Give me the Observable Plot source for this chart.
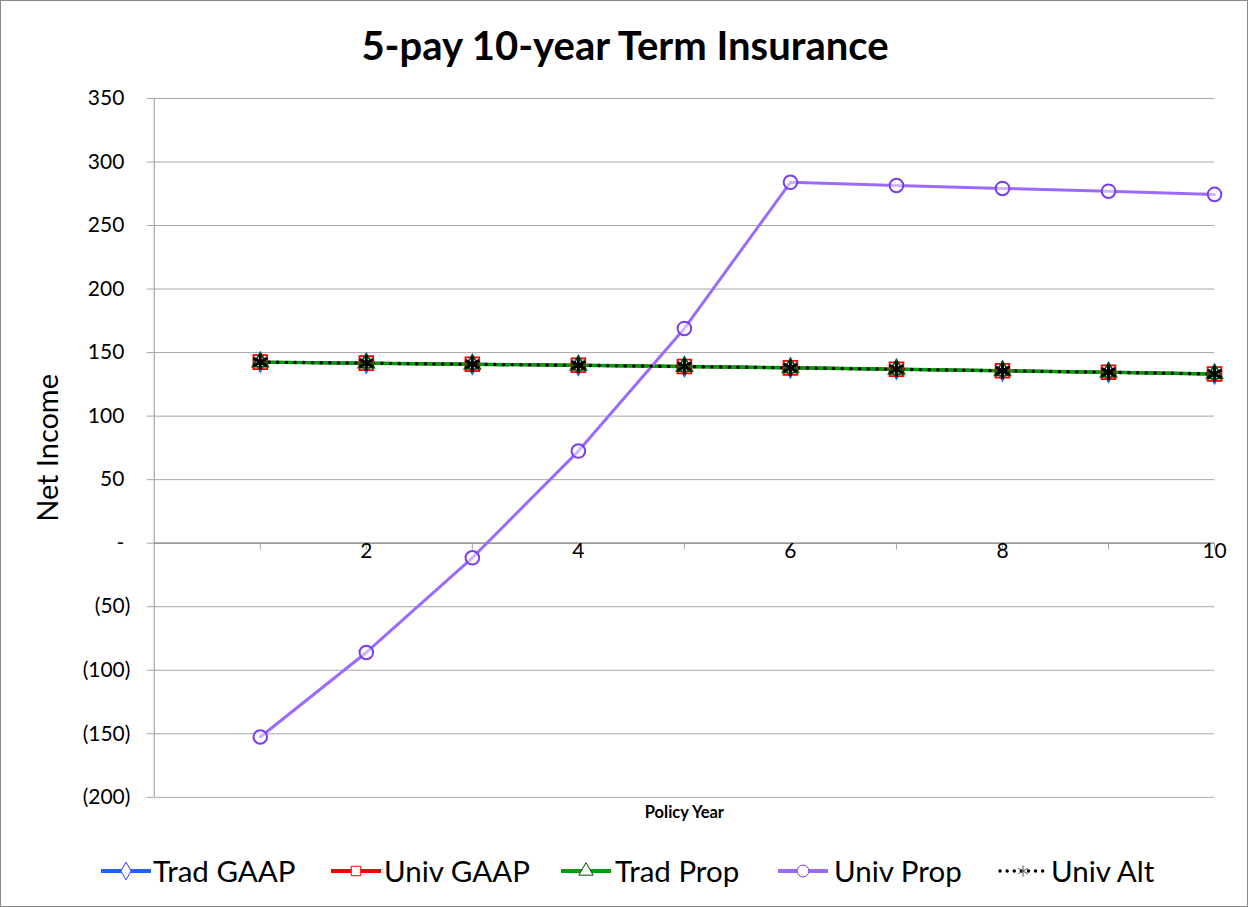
<!DOCTYPE html>
<html>
<head>
<meta charset="utf-8">
<script src="https://cdn.jsdelivr.net/npm/d3@7"></script>
<script src="https://cdn.jsdelivr.net/npm/@observablehq/plot@0.6"></script>
<style>
  html, body { margin: 0; padding: 0; background: #fff; }
  #chart { position: relative; width: 1248px; height: 907px; box-sizing: border-box; border: 1px solid #8a8a8a; overflow: hidden; font-family: Lato, "Open Sans", sans-serif; }
  #title { position: absolute; left: 0; top: 20px; width: 1248px; text-align: center; font-weight: bold; font-size: 40px; line-height: 48px; color: #000; }
  #plot { position: absolute; left: 0; top: 70px; }
  .leg { position: absolute; top: 850px; height: 40px; }
  .leg svg { position: absolute; top: 0; }
  .leg span { position: absolute; top: 0; line-height: 40px; font-size: 29.5px; color: #000; white-space: nowrap; }
</style>
</head>
<body>
<div id="chart">
  <div id="title">5-pay 10-year Term Insurance</div>
  <div id="plot"></div>
  <div id="legend"></div>
</div>
<script>
// ---- data ----
const years = [1, 2, 3, 4, 5, 6, 7, 8, 9, 10];
const tradGAAP = [142.5, 141.7, 140.8, 140.0, 139.0, 138.0, 136.9, 135.7, 134.5, 133.2];
const univGAAP = [142.5, 141.7, 140.8, 140.0, 139.0, 138.0, 136.9, 135.7, 134.5, 133.2];
const tradProp = [142.5, 141.7, 140.8, 140.0, 139.0, 138.0, 136.9, 135.7, 134.5, 133.2];
const univProp = [-152.5, -86.0, -11.5, 72.5, 169.0, 284.0, 281.5, 279.2, 277.0, 274.5];
const univAlt  = [142.5, 141.7, 140.8, 140.0, 139.0, 138.0, 136.9, 135.7, 134.5, 133.2];
const seriesNames = ["Trad GAAP", "Univ GAAP", "Trad Prop", "Univ Prop", "Univ Alt"];
const yTicksPos = [350, 300, 250, 200, 150, 100, 50, 0];
const yTicksNeg = [-50, -100, -150, -200];
const xTicks = [1, 2, 3, 4, 5, 6, 7, 8, 9, 10];
const xTickLabels = [2, 4, 6, 8, 10];
const yTitle = "Net Income";
const xTitle = "Policy Year";

const toRows = (vals) => years.map((x, i) => ({x, y: vals[i]}));
const rTG = toRows(tradGAAP), rUG = toRows(univGAAP), rTP = toRows(tradProp), rUP = toRows(univProp), rUA = toRows(univAlt);

const C = {blue: "#1a66ff", red: "#ff0000", green: "#00a000", purple: "#9b6bff", purpleDark: "#7a3cf0", black: "#000000", grid: "#a6a6a6"};

const fmtY = d => d === 0 ? "-" : d < 0 ? `(${-d})` : `${d}`;

const plot = Plot.plot({
  width: 1248,
  height: 770,
  marginTop: 27,
  marginBottom: 43,
  marginLeft: 153,
  marginRight: 33,
  x: {domain: [0, 10]},
  y: {domain: [-200, 350]},
  style: {fontFamily: "Lato, 'Open Sans', sans-serif", fontSize: "21px", color: "#000", background: "transparent", overflow: "visible"},
  marks: [
    Plot.gridY([...yTicksPos, ...yTicksNeg], {stroke: C.grid, strokeOpacity: 1, strokeWidth: 1}),
    Plot.axisY(yTicksPos, {tickSize: 7, tickPadding: 23, tickFormat: fmtY, stroke: C.grid, fill: "#000", fontSize: 21, label: null}),
    Plot.axisY(yTicksNeg, {tickSize: 7, tickPadding: 17, tickFormat: fmtY, stroke: C.grid, fill: "#000", fontSize: 21, label: null}),
    Plot.axisX([], {label: null}),
    Plot.ruleX([0], {stroke: C.grid, strokeWidth: 1.2}),
    Plot.ruleY([0], {stroke: "#8c8c8c", strokeWidth: 1.2}),
    Plot.ruleX(xTicks, {x: d => d, y1: 0, y2: -5.5, stroke: C.grid}),
    Plot.text(xTickLabels, {x: d => d, y: 0, text: d => String(d), dy: 8, lineAnchor: "middle", fontSize: 21, fill: "#000"}),
    Plot.text([yTitle], {frameAnchor: "left", dx: -106, rotate: -90, textAnchor: "middle", fontSize: 29, fill: "#000", lineAnchor: "middle"}),
    Plot.text([xTitle], {frameAnchor: "bottom", dy: 15, textAnchor: "middle", lineAnchor: "middle", fontWeight: "bold", fontSize: 16.5, fill: "#000"}),
    // lines
    Plot.line(rTG, {x: "x", y: "y", stroke: C.blue, strokeWidth: 3}),
    Plot.line(rUG, {x: "x", y: "y", stroke: C.red, strokeWidth: 3}),
    Plot.line(rTP, {x: "x", y: "y", stroke: C.green, strokeWidth: 3.5}),
    Plot.line(rUP, {x: "x", y: "y", stroke: C.purple, strokeWidth: 3}),
    Plot.line(rUA, {x: "x", y: "y", stroke: C.black, strokeWidth: 3.4, strokeDasharray: "0.1,8.6", strokeLinecap: "round"}),
    // markers
    Plot.dot(rTG, {x: "x", y: "y", symbol: "diamond", r: 6, stroke: C.blue, strokeWidth: 1.5, fill: "none"}),
    Plot.dot(rUG, {x: "x", y: "y", symbol: "square", r: 7.8, stroke: C.red, strokeWidth: 1.8, fill: "none"}),
    Plot.dot(rTP, {x: "x", y: "y", symbol: "triangle", r: 6, stroke: "#006000", strokeWidth: 1.5, fill: "none"}),
    Plot.dot(rUP, {x: "x", y: "y", symbol: "circle", r: 6.8, stroke: C.purpleDark, strokeWidth: 2, fill: "#fff", fillOpacity: 0.5}),
    Plot.dot(rUA, {x: "x", y: "y", symbol: "asterisk", r: 7.5, stroke: C.black, strokeWidth: 3, fill: "none"})
  ]
});
document.getElementById("plot").appendChild(plot);

// ---- legend ----
const legendItems = [
  {name: seriesNames[0], color: C.blue, marker: "diamond", mcolor: "#3a3aff", sx: 100, tx: 152},
  {name: seriesNames[1], color: C.red, marker: "square", mcolor: C.red, sx: 330, tx: 383},
  {name: seriesNames[2], color: C.green, marker: "triangle", mcolor: "#005000", sx: 560, tx: 614},
  {name: seriesNames[3], color: C.purple, marker: "circle", mcolor: C.purpleDark, sx: 777, tx: 833},
  {name: seriesNames[4], color: C.black, marker: "asterisk", mcolor: "#555", sx: 997, tx: 1050, dotted: true}
];
const leg = document.getElementById("legend");
for (const it of legendItems) {
  const div = document.createElement("div");
  div.className = "leg";
  div.style.left = "0px";
  const sym = d3.symbol().type({diamond: d3.symbolDiamond, square: d3.symbolSquare, triangle: d3.symbolTriangle, circle: d3.symbolCircle, asterisk: d3.symbolAsterisk}[it.marker]).size(it.marker === "circle" ? 110 : 90)();
  const line = it.dotted
    ? `<line x1="2" y1="20" x2="48" y2="20" stroke="#000" stroke-width="3.4" stroke-dasharray="0.1,7" stroke-linecap="round"/>`
    : `<line x1="0" y1="20" x2="50" y2="20" stroke="${it.color}" stroke-width="4"/>`;
  const fill = it.dotted ? "none" : "#fff";
  div.innerHTML = `<svg width="52" height="40" style="left:${it.sx}px">${line}<path d="${sym}" transform="translate(25,20)" fill="${fill}" stroke="${it.mcolor}" stroke-width="1"/></svg><span style="left:${it.tx}px">${it.name}</span>`;
  leg.appendChild(div);
}
</script>
</body>
</html>
